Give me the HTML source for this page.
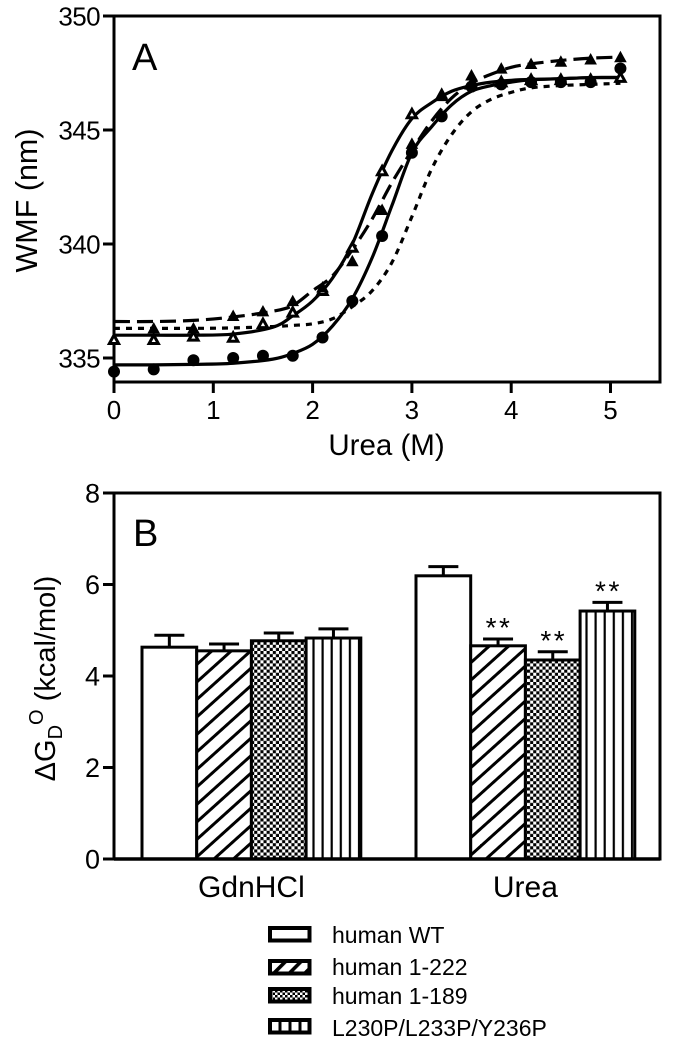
<!DOCTYPE html>
<html lang="en">
<head>
<meta charset="utf-8">
<title>WMF denaturation curves and stability bars</title>
<style>
html,body{margin:0;padding:0;background:#fff;}
svg{display:block;filter:blur(0.35px);}
text{font-family:"Liberation Sans",sans-serif;fill:#000;}
</style>
</head>
<body>
<svg id="fig" xmlns="http://www.w3.org/2000/svg" width="676" height="1050" viewBox="0 0 676 1050">
<defs>
<pattern id="hatch" width="13" height="13" patternUnits="userSpaceOnUse" patternTransform="rotate(-42)">
<rect width="13" height="13" fill="#fff"/><rect width="13" height="3" fill="#000"/>
</pattern>
<pattern id="check" width="6.2" height="6.2" patternUnits="userSpaceOnUse">
<rect width="6.2" height="6.2" fill="#fff"/><rect width="3.1" height="3.1" fill="#000"/><rect x="3.1" y="3.1" width="3.1" height="3.1" fill="#000"/>
</pattern>
<pattern id="vert" width="9.1" height="10" patternUnits="userSpaceOnUse" patternTransform="translate(3 0)">
<rect width="9.1" height="10" fill="#fff"/><rect width="2.2" height="10" fill="#000"/>
</pattern>
<pattern id="solid" width="10" height="10" patternUnits="userSpaceOnUse"><rect width="10" height="10" fill="#fff"/></pattern>
<pattern id="legend-hatch" width="11" height="11" patternUnits="userSpaceOnUse" patternTransform="rotate(-45)">
<rect width="11" height="11" fill="#fff"/><rect width="11" height="3.6" fill="#000"/>
</pattern>
<pattern id="legend-check" width="5" height="5" patternUnits="userSpaceOnUse">
<rect width="5" height="5" fill="#fff"/><rect width="2.5" height="2.5" fill="#000"/><rect x="2.5" y="2.5" width="2.5" height="2.5" fill="#000"/>
</pattern>
<pattern id="legend-vert" width="10" height="10" patternUnits="userSpaceOnUse" patternTransform="translate(278.5 0)">
<rect width="10" height="10" fill="#fff"/><rect width="3" height="10" fill="#000"/>
</pattern>
</defs>
<g id="panelA"></g>
<g id="panelB"></g>
<g id="legend"></g>
</svg>
<script>
// Panel A data
const ureaPoints = [0,0.4,0.8,1.2,1.5,1.8,2.1,2.4,2.7,3.0,3.3,3.6,3.9,4.2,4.5,4.8,5.1];
const openTriangleValues = [335.8,335.8,335.95,335.9,336.5,337.0,337.95,339.85,343.2,345.7,346.5,347.0,347.1,347.2,347.2,347.2,347.3];
const filledTriangleValues = [null,336.3,336.3,336.85,337.05,337.5,338.1,339.25,341.5,344.4,346.6,347.4,347.7,347.9,348.0,348.1,348.2];
const filledCircleValues = [334.4,334.5,334.9,335.0,335.1,335.1,335.9,337.5,340.35,344.0,345.6,346.9,347.0,347.1,347.1,347.1,347.7];
const curveUrea = [0,0.4,0.8,1.2,1.6,1.8,2.0,2.2,2.4,2.6,2.8,3.0,3.2,3.4,3.6,3.8,4.0,4.2,4.5,4.8,5.1];
const openTriangleCurve = [336.0,336.0,336.0,336.05,336.35,336.85,337.5,338.5,340.0,342.2,344.1,345.5,346.2,346.7,346.95,347.1,347.18,347.22,347.25,347.3,347.3];
const filledTriangleCurve = [336.6,336.6,336.65,336.8,337.05,337.3,337.95,338.6,339.75,341.1,342.7,344.1,345.4,346.4,347.05,347.45,347.75,347.9,348.05,348.15,348.2];
const filledCircleCurve = [334.7,334.7,334.72,334.77,334.95,335.2,335.6,336.4,337.6,339.4,341.7,344.0,345.15,346.1,346.7,346.95,347.1,347.2,347.25,347.3,347.3];
const dottedCurve = [336.3,336.3,336.3,336.32,336.38,336.43,336.5,336.72,337.25,337.95,339.2,341.2,343.3,344.8,345.8,346.35,346.65,346.85,346.95,347.0,347.05];
const xTicksA = [0,1,2,3,4,5];
const yTicksA = [335,340,345,350];
// Panel B data
const groupLabels = ["GdnHCl","Urea"];
const seriesLabels = ["human WT","human 1-222","human 1-189","L230P/L233P/Y236P"];
const barValuesGdn = [4.63,4.55,4.77,4.83];
const barErrorsGdn = [0.26,0.15,0.17,0.20];
const barValuesUrea = [6.19,4.66,4.35,5.42];
const barErrorsUrea = [0.20,0.15,0.18,0.19];
const significantUrea = [false,true,true,true];
const yTicksB = [0,2,4,6,8];

const NS = "http://www.w3.org/2000/svg";
function make(parent, tag, attrs, txt){
  const el = document.createElementNS(NS, tag);
  for (const k in attrs) el.setAttribute(k, attrs[k]);
  if (txt !== undefined) el.textContent = txt;
  parent.appendChild(el);
  return el;
}
const xA = v => 114 + v * 99.3;
const yA = v => 358 - (v - 335) * 22.8;
const yB = v => 859 - v * 45.75;
const A = document.getElementById("panelA");
const B = document.getElementById("panelB");
const L = document.getElementById("legend");
let el;

// Panel A frame
el = make(A, "rect", {x:114,y:16,width:546,height:366,fill:"none",stroke:"#000","stroke-width":3});



xTicksA.forEach(t => {
  el = make(A, "line", {x1:xA(t),x2:xA(t),y1:382,y2:393,stroke:"#000","stroke-width":3});
  
  
  el = make(A, "text", {x:xA(t),y:419,"text-anchor":"middle","font-size":26}, String(t));
  
  
});
yTicksA.forEach(t => {
  el = make(A, "line", {x1:103,x2:114,y1:yA(t),y2:yA(t),stroke:"#000","stroke-width":3});
  
  
  el = make(A, "text", {x:100,y:yA(t)+9.5,"text-anchor":"end","font-size":26,"letter-spacing":-0.6}, String(t));
  
  
});
el = make(A, "text", {x:386.5,y:455,"text-anchor":"middle","font-size":29.5}, "Urea (M)");


el = make(A, "text", {transform:"translate(37 200.5) rotate(-90)","text-anchor":"middle","font-size":30.5}, "WMF (nm)");


el = make(A, "text", {x:132,y:70,"font-size":38}, "A");



function smoothPath(xs, ys){
  const p = xs.map((x,i)=>[xA(x), yA(ys[i])]);
  let d = "M" + p[0][0].toFixed(2) + " " + p[0][1].toFixed(2);
  for (let i = 0; i < p.length - 1; i++){
    const p0 = p[Math.max(i-1,0)], p1 = p[i], p2 = p[i+1], p3 = p[Math.min(i+2,p.length-1)];
    const c1x = p1[0] + (p2[0]-p0[0])/6, c1y = p1[1] + (p2[1]-p0[1])/6;
    const c2x = p2[0] - (p3[0]-p1[0])/6, c2y = p2[1] - (p3[1]-p1[1])/6;
    d += "C" + [c1x,c1y,c2x,c2y,p2[0],p2[1]].map(n=>n.toFixed(2)).join(" ");
  }
  return d;
}
function curve(ys, name, dash){
  const attrs = {d:smoothPath(curveUrea, ys),fill:"none",stroke:"#000","stroke-width":3.2};
  if (dash) attrs["stroke-dasharray"] = dash;
  const c = make(A, "path", attrs);
  
  
}
curve(dottedCurve, "fit-curve-dotted", "6 6");
curve(filledTriangleCurve, "fit-curve-dashed", "16 7");
curve(filledCircleCurve, "fit-curve-circle");
curve(openTriangleCurve, "fit-curve-open-triangle");

function triangle(cx, cy, r){
  return [[cx,cy-r],[cx+r,cy+r*0.82],[cx-r,cy+r*0.82]].map(a=>a.map(n=>n.toFixed(2)).join(",")).join(" ");
}
ureaPoints.forEach((u,i) => {
  el = make(A, "polygon", {points:triangle(xA(u), yA(openTriangleValues[i]), 4.6),fill:"#fff",stroke:"#000","stroke-width":3});
  
  
});
ureaPoints.forEach((u,i) => {
  if (filledTriangleValues[i] === null) return;
  el = make(A, "polygon", {points:triangle(xA(u), yA(filledTriangleValues[i]), 6.3),fill:"#000"});
  
  
});
ureaPoints.forEach((u,i) => {
  el = make(A, "circle", {cx:xA(u),cy:yA(filledCircleValues[i]),r:6,fill:"#000"});
  
  
});

// Panel B frame
el = make(B, "rect", {x:114,y:493,width:546,height:366,fill:"none",stroke:"#000","stroke-width":3});


yTicksB.forEach(t => {
  el = make(B, "line", {x1:103,x2:114,y1:yB(t),y2:yB(t),stroke:"#000","stroke-width":3});
  
  
  el = make(B, "text", {x:100,y:yB(t)+9.5,"text-anchor":"end","font-size":27}, String(t));
  
  
});
el = make(B, "text", {transform:"translate(55 678.5) rotate(-90)","text-anchor":"middle","font-size":29});


make(el, "tspan", {}, "\u0394G");
make(el, "tspan", {"font-size":20,dy:7}, "D");
make(el, "tspan", {"font-size":20,dy:-19}, "O");
make(el, "tspan", {dy:12}, " (kcal/mol)");
el = make(B, "text", {x:133,y:546,"font-size":38}, "B");



const fills = ["#solid","#hatch","#check","#vert"];
const legendFills = ["#solid","#legend-hatch","#legend-check","#legend-vert"];
const groupStart = [142, 416];
const barStep = 54.7;
function drawGroup(g, vals, errs, sig){
  vals.forEach((v,i) => {
    const x0 = groupStart[g] + i * barStep;
    const cx = x0 + barStep/2;
    const er = make(B, "path", {d:"M"+cx+" "+yB(v)+"V"+yB(v+errs[i])+"M"+(cx-15)+" "+yB(v+errs[i])+"H"+(cx+15),stroke:"#000","stroke-width":3,fill:"none"});
    
    
    const r = make(B, "rect", {x:x0,y:yB(v),width:barStep,height:859-yB(v),fill:"url("+fills[i]+")",stroke:"#000","stroke-width":3});
    
    
    if (sig && sig[i]){
      const s = make(B, "text", {x:cx+1,y:yB(v+errs[i])-2,"text-anchor":"middle","font-size":28,"letter-spacing":2.5}, "**");
      
      
    }
  });
}
drawGroup(0, barValuesGdn, barErrorsGdn, null);
drawGroup(1, barValuesUrea, barErrorsUrea, significantUrea);
make(B, "line", {x1:114,x2:660,y1:859,y2:859,stroke:"#000","stroke-width":3.4});
groupLabels.forEach((g,i) => {
  el = make(B, "text", {x:groupStart[i]+2*barStep,y:897,"text-anchor":"middle","font-size":30}, g);
  
  
});

// Legend
const legendTops = [926,959,987,1018];
const legendBase = [943,975,1004,1036];
seriesLabels.forEach((s,i) => {
  const sw = make(L, "rect", {x:270,y:legendTops[i]+2,width:39.5,height:12.5,fill:"url("+legendFills[i]+")",stroke:"#000","stroke-width":4});
  
  
  const t = make(L, "text", {x:332,y:legendBase[i],"font-size":23}, s);
  
  
});
</script>
</body>
</html>
